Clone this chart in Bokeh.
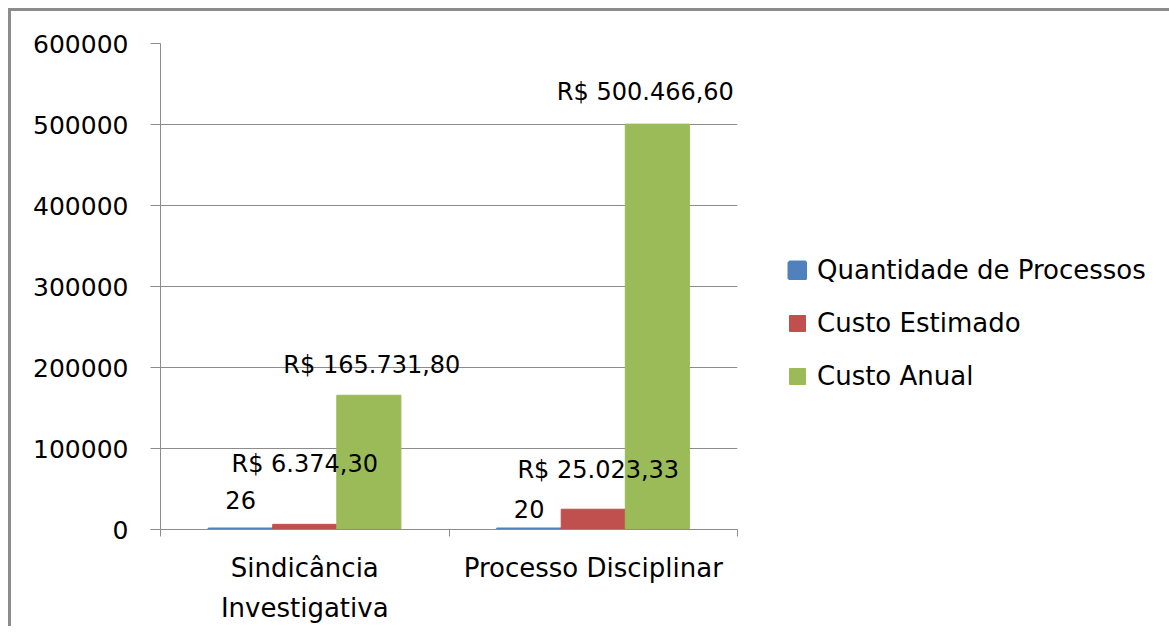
from bokeh.plotting import figure
from bokeh.models import Range1d, FixedTicker, Legend, LegendItem, BasicTickFormatter
from bokeh.core.properties import value
from bokeh.embed import file_html
from bokeh.resources import INLINE

# ---- data ----
categories = ["Sindicância\nInvestigativa", "Processo Disciplinar"]
series_names = ["Quantidade de Processos", "Custo Estimado", "Custo Anual"]
quantidade = [26, 20]
custo_estimado = [6374.30, 25023.33]
custo_anual = [165731.80, 500466.60]
y_ticks = [0, 100000, 200000, 300000, 400000, 500000, 600000]

# ---- styles ----
colors = ["#4F81BD", "#C0504D", "#9BBB59"]
FONT = "DejaVu Sans"
GRAY = "#8c8c8c"
bar_w = 1 / 4.5
offsets = [-bar_w, 0.0, bar_w]
label_dy = [[-29, -20], [-60, -39], [-30, -32]]  # pixel offsets of labels above bar tops
label_dx = [[0, 0], [0, 5], [3, -12]]


def brl(v):
    s = f"{v:,.2f}"
    s = s.replace(",", "X").replace(".", ",").replace("X", ".")
    return "R$ " + s


series_values = [quantidade, custo_estimado, custo_anual]
series_labels = [[str(v) for v in quantidade],
                 [brl(v) for v in custo_estimado],
                 [brl(v) for v in custo_anual]]

p = figure(frame_width=577, frame_height=486,
           x_range=Range1d(0, len(categories)), y_range=Range1d(0, y_ticks[-1]),
           output_backend="svg", toolbar_location=None,
           min_border_left=149, min_border_top=32, min_border_right=412, min_border_bottom=95)
p.margin = (8, 0, 0, 8)
p.styles = {"border-left": f"3px solid {GRAY}", "border-top": f"3px solid {GRAY}"}
p.outline_line_color = None
p.background_fill_color = "white"
p.border_fill_color = "white"

# x axis: labels at category centres, ticks at category boundaries
centers = [i + 0.5 for i in range(len(categories))]
p.xaxis.ticker = FixedTicker(ticks=centers, minor_ticks=list(range(len(categories) + 1)))
p.xaxis.major_label_overrides = {c: lab for c, lab in zip(centers, categories)}
p.xaxis.major_tick_out = 0
p.xaxis.major_tick_in = 0
p.xaxis.minor_tick_out = 7
p.xaxis.minor_tick_in = 0
p.xaxis.minor_tick_line_color = GRAY
p.xaxis.axis_line_color = GRAY
p.xaxis.major_label_text_font = FONT
p.xaxis.major_label_text_font_size = "26px"
p.xaxis.major_label_text_color = "black"
p.xaxis.major_label_text_line_height = 1.35
p.xaxis.major_label_standoff = 16

# y axis
p.yaxis.ticker = FixedTicker(ticks=y_ticks)
p.yaxis.formatter = BasicTickFormatter(use_scientific=False)
p.yaxis.major_tick_out = 10
p.yaxis.major_tick_in = 0
p.yaxis.minor_tick_line_color = None
p.yaxis.major_tick_line_color = GRAY
p.yaxis.axis_line_color = GRAY
p.yaxis.major_label_text_font = FONT
p.yaxis.major_label_text_font_size = "25px"
p.yaxis.major_label_text_color = "black"
p.yaxis.major_label_standoff = 22

p.xgrid.visible = False
p.ygrid.ticker = FixedTicker(ticks=y_ticks)
p.ygrid.grid_line_color = GRAY

bars = []
for j, vals in enumerate(series_values):
    xs = [c + offsets[j] for c in centers]
    r = p.vbar(x=xs, top=vals, width=bar_w, fill_color=colors[j],
               line_color=colors[j], line_width=4 if j == 0 else 1)
    bars.append(r)

for j, vals in enumerate(series_values):
    xs = [c + offsets[j] for c in centers]
    p.text(x=xs, y=vals, text=series_labels[j], y_offset=label_dy[j], x_offset=label_dx[j],
           text_align="center", text_baseline="alphabetic",
           text_font=value(FONT), text_font_size="24px", text_color="black")

legend = Legend(items=[LegendItem(label=series_names[j], renderers=[bars[j]]) for j in range(3)],
                location=(50, 138), orientation="vertical",
                glyph_width=20, glyph_height=20, label_standoff=10,
                label_height=30, spacing=23, padding=0, margin=0,
                border_line_color=None, background_fill_alpha=0,
                label_text_font=FONT, label_text_font_size="26px", label_text_color="black")
p.add_layout(legend, "right")

open("out.html", "w").write(file_html(p, INLINE))
